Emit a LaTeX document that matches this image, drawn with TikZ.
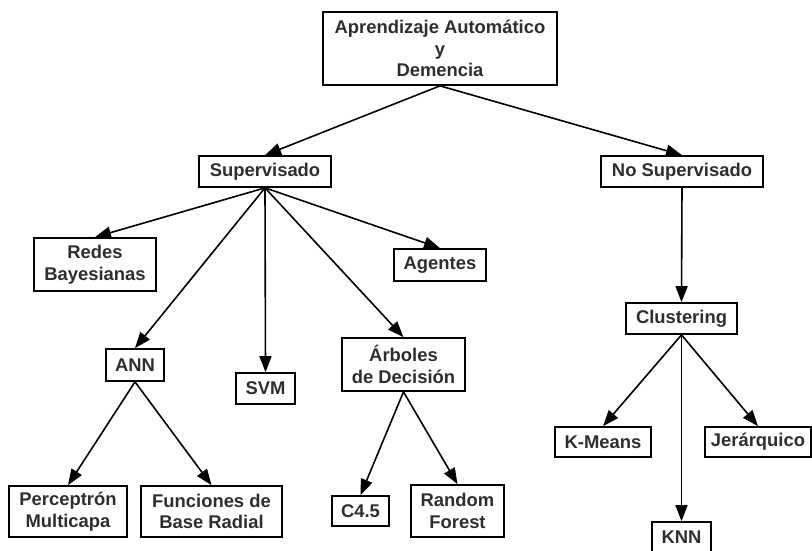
\documentclass[tikz,border=0pt]{standalone}
\usepackage{fontspec}
\setmainfont{Liberation Sans}
\usetikzlibrary{arrows.meta}
\definecolor{txt}{HTML}{2E2E2E}
\tikzset{
  box/.style={draw=black, line width=1.7pt, text=txt, align=center, inner sep=0pt,
    font=\fontsize{18.4}{21.7}\selectfont\bfseries},
  arr/.style={line width=1.6pt, -{Triangle[length=16pt,width=12pt]}},
}
\begin{document}
\begin{tikzpicture}[x=1pt,y=-1pt]
\useasboundingbox (0,0) rectangle (812,550);
\node[box, minimum width=234, minimum height=73] (root) at (440,48.5) {Aprendizaje Automático\\y\\Demencia};
\node[box, minimum width=132, minimum height=31] (sup) at (265,171.5) {Supervisado};
\node[box, minimum width=162, minimum height=31] (nosup) at (682,171.5) {No Supervisado};
\node[box, minimum width=122, minimum height=53] (redes) at (95,264.5) {Redes\\Bayesianas};
\node[box, minimum width=92, minimum height=32] (agentes) at (440,265) {Agentes};
\node[box, minimum width=58, minimum height=32] (ann) at (135,365) {ANN};
\node[box, minimum width=59, minimum height=31] (svm) at (265.5,388.5) {SVM};
\node[box, minimum width=123, minimum height=53] (arb) at (403.5,364.5) {Árboles\\de Decisión};
\node[box, minimum width=111, minimum height=31] (clus) at (681.5,318.5) {Clustering};
\node[box, minimum width=96, minimum height=30] (kmeans) at (603,442) {K-Means};
\node[box, minimum width=106, minimum height=30] (jer) at (758,442) {Jerárquico};
\node[box, minimum width=59, minimum height=31] (knn) at (681.5,537.5) {KNN};
\node[box, minimum width=118, minimum height=51] (perc) at (68,511.5) {Perceptrón\\Multicapa};
\node[box, minimum width=141, minimum height=51] (func) at (211.5,511.5) {Funciones de\\Base Radial};
\node[box, minimum width=57, minimum height=30] (c45) at (360.5,511) {C4.5};
\node[box, minimum width=93, minimum height=52] (rf) at (457.5,511) {Random\\Forest};

\draw[arr] (root.south) -- (sup.north);
\draw[arr] (root.south) -- (nosup.north);
\draw[arr] (sup.south) -- (redes.north);
\draw[arr] (sup.south) -- (agentes.north);
\draw[arr] (sup.south) -- (ann.north);
\draw[arr] (sup.south) -- (svm.north);
\draw[arr] (sup.south) -- (arb.north);
\draw[arr] (ann.south) -- (perc.north);
\draw[arr] (ann.south) -- (func.north);
\draw[arr] (arb.south) -- (c45.north);
\draw[arr] (arb.south) -- (rf.north);
\draw[arr] (nosup.south) -- (clus.north);
\draw[arr] (clus.south) -- (kmeans.north);
\draw[arr] (clus.south) -- (knn.north);
\draw[arr] (clus.south) -- (jer.north);
\end{tikzpicture}
\end{document}
